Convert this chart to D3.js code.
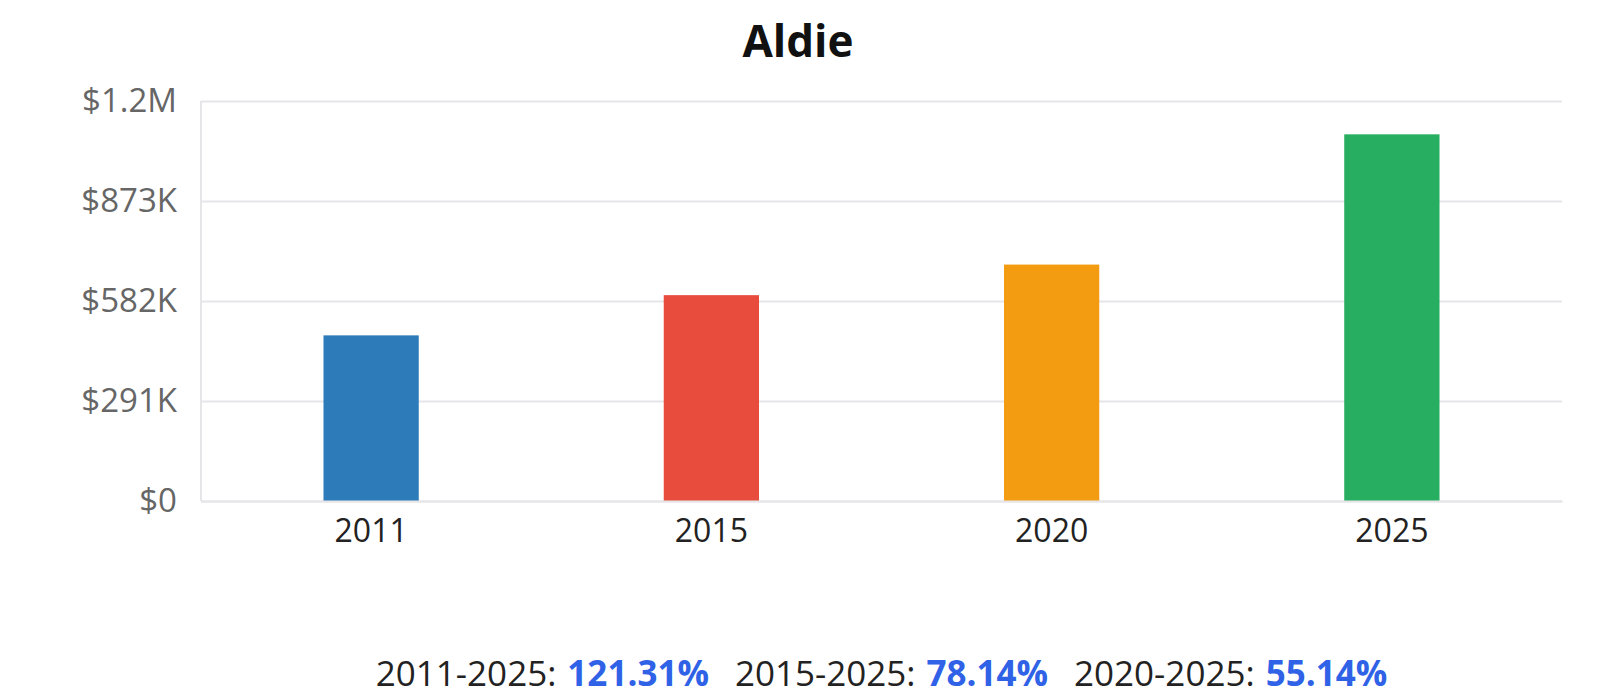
<!DOCTYPE html>
<html lang="en">
<head>
    <meta charset="UTF-8">
    <title>Aldie</title>
    <script src="https://d3js.org/d3.v7.min.js"></script>
    <style>
        body { margin: 0; background: #fff; font-family: "Open Sans", "Noto Sans", sans-serif; }
        svg { display: block; }
    </style>
</head>
<body>
    <svg width="1600" height="699"></svg>
    <script>
        // values
        const years = ["2011", "2015", "2020", "2025"];
        const values = [482000, 599000, 688000, 1067000];
        const barColors = ["#2e7bb9", "#e74c3c", "#f39c12", "#27ae60"];
        const yTicks = [0, 291000, 582000, 873000, 1164000];
        const yTickLabels = ["$0", "$291K", "$582K", "$873K", "$1.2M"];
        const changeLabels = ["2011-2025:", "2015-2025:", "2020-2025:"];
        const changePcts = ["121.31%", "78.14%", "55.14%"];

        const svg = d3.select("svg");
        const width = +svg.attr("width"), height = +svg.attr("height");
        const margin = { top: 101, right: 38, bottom: 198, left: 201 };
        const plotW = width - margin.left - margin.right;
        const plotH = height - margin.top - margin.bottom;

        const x = d3.scaleBand().domain(years).range([0, plotW]).padding(0);
        const y = d3.scaleLinear().domain([0, yTicks[yTicks.length - 1]]).range([plotH, 0]);

        // title
        svg.append("text")
            .attr("x", 798).attr("y", 57)
            .attr("text-anchor", "middle")
            .attr("font-size", 44).attr("font-weight", 700)
            .attr("fill", "#111")
            .text("Aldie");

        const g = svg.append("g").attr("transform", `translate(${margin.left},${margin.top})`);

        // grid lines + y labels
        const yAxis = d3.axisLeft(y)
            .tickValues(yTicks)
            .tickSize(-plotW)
            .tickPadding(24)
            .tickFormat((d, i) => yTickLabels[i]);
        const ya = g.append("g").call(yAxis);
        ya.select(".domain").remove();
        ya.selectAll(".tick line").attr("stroke", "#e6e6e9").attr("stroke-width", 2);
        ya.selectAll(".tick text")
            .attr("font-family", "'Open Sans', sans-serif")
            .attr("font-size", 33).attr("fill", "#666");

        // left axis line
        g.append("line")
            .attr("x1", 0).attr("x2", 0).attr("y1", 0).attr("y2", plotH)
            .attr("stroke", "#e6e6e9").attr("stroke-width", 2);

        // bars
        const barW = x.bandwidth() * 0.28;
        g.selectAll("rect.bar")
            .data(values)
            .enter()
            .append("rect")
            .attr("class", "bar")
            .attr("x", (d, i) => x(years[i]) + (x.bandwidth() - barW) / 2)
            .attr("y", d => y(d))
            .attr("width", barW)
            .attr("height", d => plotH - y(d))
            .attr("fill", (d, i) => barColors[i]);

        // x labels
        const xAxis = d3.axisBottom(x).tickSize(0).tickPadding(18);
        const xa = g.append("g").attr("transform", `translate(0,${plotH})`).call(xAxis);
        xa.select(".domain").attr("stroke", "#e6e6e9").attr("stroke-width", 2);
        xa.selectAll(".tick text")
            .attr("font-family", "'Open Sans', sans-serif")
            .attr("font-size", 32).attr("fill", "#222");

        // growth summary line
        const summary = svg.append("text")
            .attr("x", margin.left + plotW / 2).attr("y", 686)
            .attr("text-anchor", "middle")
            .attr("font-size", 35).attr("fill", "#222");
        changeLabels.forEach((lab, i) => {
            summary.append("tspan").attr("dx", i === 0 ? 0 : 26).text(lab);
            summary.append("tspan").attr("dx", 11)
                .attr("font-weight", 700).attr("fill", "#2f62e6")
                .text(changePcts[i]);
        });
    </script>
</body>
</html>
